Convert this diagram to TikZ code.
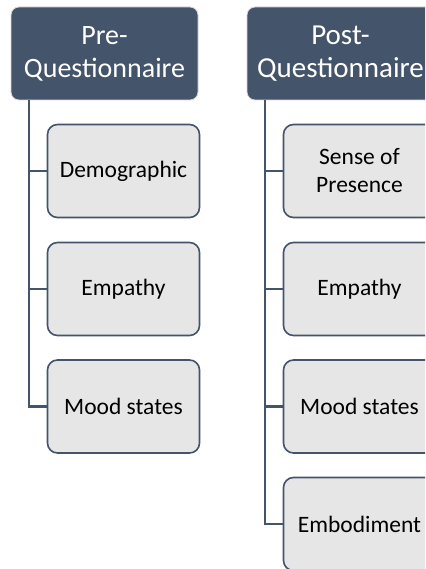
\documentclass[tikz,border=0pt]{standalone}
\usepackage{fontspec}
\setmainfont{Carlito}
\definecolor{hdr}{HTML}{44546A}
\definecolor{kid}{HTML}{E7E6E6}
\tikzset{
  hdrbox/.style={draw=white!85!black, line width=0.8pt, fill=hdr, rounded corners=8pt,
    text=white, align=center, inner sep=0pt,
    font=\fontsize{28}{33}\selectfont},
  kidbox/.style={draw=hdr, line width=1.6pt, fill=kid, rounded corners=10pt,
    text=black, align=center, inner sep=0pt, minimum width=152pt, minimum height=93pt,
    font=\fontsize{23.5}{28}\selectfont},
  conn/.style={draw=hdr, line width=2.6pt}
}
\begin{document}
\begin{tikzpicture}[x=1pt,y=-1pt]
\clip (0,0) rectangle (425,569);
\fill[white] (0,0) rectangle (425,569);
% pre column
\node[hdrbox, minimum width=187pt, minimum height=93pt] (pre) at (104.5,53.5) {Pre-\\Questionnaire};
\node[kidbox] (pd) at (123.5,171) {Demographic};
\node[kidbox] (pe) at (123.5,289) {Empathy};
\node[kidbox] (pm) at (123.5,406.5) {Mood states};
\draw[conn] ([xshift=18.5pt]pre.south west) |- (pd.west);
\draw[conn] ([xshift=18.5pt]pre.south west) |- (pe.west);
\draw[conn] ([xshift=18.5pt]pre.south west) |- (pm.west);
% post column
\node[hdrbox, minimum width=187pt, minimum height=93pt, font=\fontsize{29}{33}\selectfont] (post) at (340.5,53.5) {Post-\\Questionnaire};
\node[kidbox] (qs) at (359.5,171) {Sense of\\Presence};
\node[kidbox] (qe) at (359.5,289) {Empathy};
\node[kidbox] (qm) at (359.5,406.5) {Mood states};
\node[kidbox] (qb) at (359.5,524) {Embodiment};
\draw[conn] ([xshift=18.5pt]post.south west) |- (qs.west);
\draw[conn] ([xshift=18.5pt]post.south west) |- (qe.west);
\draw[conn] ([xshift=18.5pt]post.south west) |- (qm.west);
\draw[conn] ([xshift=18.5pt]post.south west) |- (qb.west);
\end{tikzpicture}
\end{document}
